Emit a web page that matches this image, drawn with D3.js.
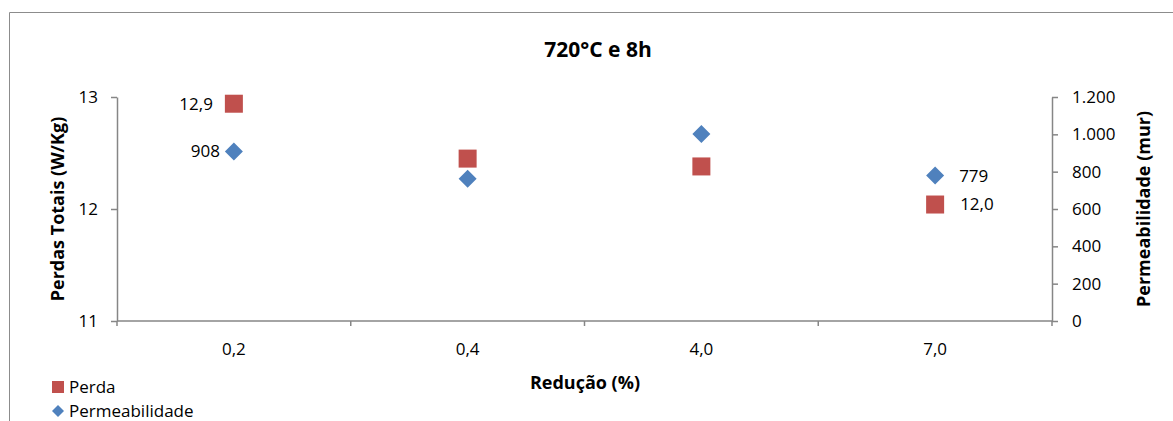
<!DOCTYPE html>
<html><head><meta charset="utf-8">
<script src="https://cdn.jsdelivr.net/npm/d3@7"></script>
<style>body{margin:0;background:#fff}svg{display:block}text{font-family:"Open Sans","Noto Sans",sans-serif}</style>
</head><body><svg id="c" width="1173" height="421"></svg>
<script>
const categories = ["0,2", "0,4", "4,0", "7,0"];
const perda = [12.94, 12.45, 12.38, 12.04];
const perdaLabels = ["12,9", null, null, "12,0"];
const permeabilidade = [908, 762, 1002, 779];
const permLabels = ["908", null, null, "779"];
const leftTicks = [11, 12, 13];
const rightTicks = [0, 200, 400, 600, 800, 1000, 1200];
const rightTickLabels = ["0", "200", "400", "600", "800", "1.000", "1.200"];

const svg = d3.select("#c");
const m = {l:117, r:1052, t:97, b:321};
const axisColor = "#868686";
const red = "#C0504D", blue = "#4F81BD";
const fs = "17px";

// frame
svg.append("path").attr("d","M9.5,421 V12.5 H1173").attr("fill","none").attr("stroke","#8c8c8c").attr("stroke-width",1);

const x = d3.scaleBand().domain(categories).range([m.l, m.r]);
const yL = d3.scaleLinear().domain([11, 13]).range([m.b, m.t]);
const yR = d3.scaleLinear().domain([0, 1200]).range([m.b, m.t]);

function styleAxis(g){
  g.selectAll("path").attr("stroke", axisColor).attr("stroke-width",1.5);
  g.selectAll("line").attr("stroke", axisColor).attr("stroke-width",1.5);
  g.selectAll("text").attr("fill","#000").style("font-size",fs);
}

const gx = svg.append("g").attr("transform",`translate(0,${m.b})`)
  .call(d3.axisBottom(x).tickSize(0).tickPadding(22));
gx.selectAll(".domain").remove();
gx.append("line").attr("x1",m.l).attr("x2",m.r).attr("y1",0).attr("y2",0);
const bounds = [...categories.map(c=>x(c)), m.r];
gx.selectAll(".tk").data(bounds).enter().append("line").attr("class","tk")
  .attr("x1",d=>d).attr("x2",d=>d).attr("y1",0).attr("y2",5);
styleAxis(gx);

const gl = svg.append("g").attr("transform",`translate(${m.l},0)`)
  .call(d3.axisLeft(yL).tickValues(leftTicks).tickSize(6).tickSizeOuter(0).tickPadding(13).tickFormat(d3.format("d")));
styleAxis(gl);

const gr = svg.append("g").attr("transform",`translate(${m.r},0)`)
  .call(d3.axisRight(yR).tickValues(rightTicks).tickSize(6).tickSizeOuter(0).tickPadding(14).tickFormat((d,i)=>rightTickLabels[i]));
styleAxis(gr);

// titles
svg.append("text").attr("x",598).attr("y",57).attr("text-anchor","middle")
  .style("font-size","21px").style("font-weight","bold").text("720°C e 8h");
svg.append("text").attr("x",585).attr("y",389).attr("text-anchor","middle")
  .style("font-size","18px").style("font-weight","bold").text("Redução (%)");
svg.append("text").attr("transform","translate(64,209) rotate(-90)").attr("text-anchor","middle")
  .style("font-size","18px").style("font-weight","bold").text("Perdas Totais (W/Kg)");
svg.append("text").attr("transform","translate(1150,209) rotate(-90)").attr("text-anchor","middle")
  .style("font-size","18px").style("font-weight","bold").text("Permeabilidade (mur)");

const cx = c => x(c) + x.bandwidth()/2;
const sq = 18;
svg.append("g").selectAll("rect").data(perda).enter().append("rect")
  .attr("x",(d,i)=>cx(categories[i])-sq/2).attr("y",d=>yL(d)-sq/2)
  .attr("width",sq).attr("height",sq).attr("fill",red);
const dm = 9;
svg.append("g").selectAll("path").data(permeabilidade).enter().append("path")
  .attr("transform",(d,i)=>`translate(${cx(categories[i])},${yR(d)})`)
  .attr("d",`M0,${-dm}L${dm},0L0,${dm}L${-dm},0Z`).attr("fill",blue);

// data labels
const lab = svg.append("g").style("font-size",fs);
perda.forEach((d,i)=>{
  if(!perdaLabels[i]) return;
  const left = i===0;
  lab.append("text").attr("x",cx(categories[i]) + (left?-21:25)).attr("y",yL(d)).attr("dy","0.35em")
    .attr("text-anchor", left?"end":"start").text(perdaLabels[i]);
});
permeabilidade.forEach((d,i)=>{
  if(!permLabels[i]) return;
  const left = i===0;
  lab.append("text").attr("x",cx(categories[i]) + (left?-14:24)).attr("y",yR(d)).attr("dy","0.35em")
    .attr("text-anchor", left?"end":"start").text(permLabels[i]);
});

// legend
const lg = svg.append("g").style("font-size",fs);
lg.append("rect").attr("x",52).attr("y",381).attr("width",12).attr("height",12).attr("fill",red);
lg.append("text").attr("x",69).attr("y",387).attr("dy","0.35em").text("Perda");
lg.append("path").attr("transform","translate(58,411)").attr("d","M0,-6L6,0L0,6L-6,0Z").attr("fill",blue);
lg.append("text").attr("x",69).attr("y",411).attr("dy","0.35em").text("Permeabilidade");
</script></body></html>
